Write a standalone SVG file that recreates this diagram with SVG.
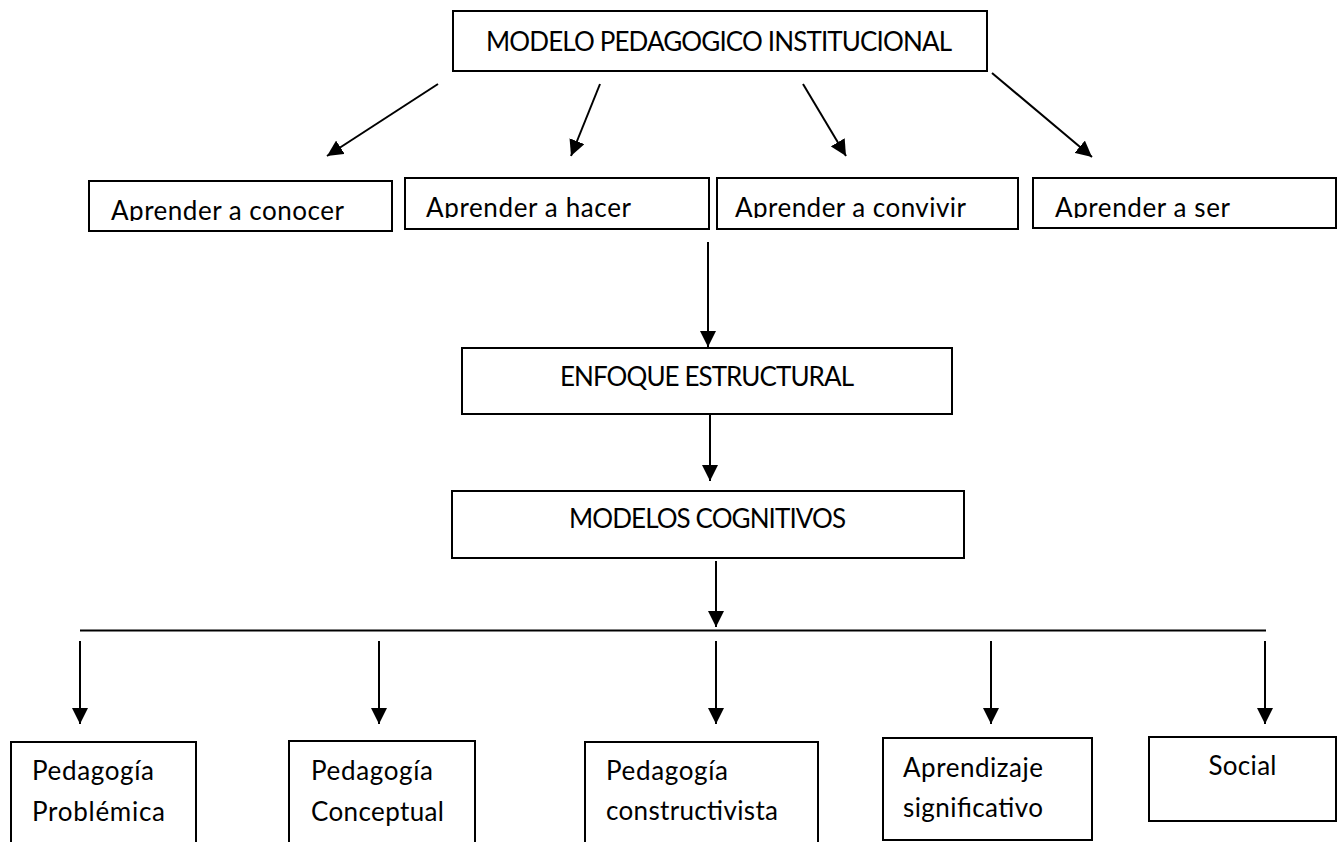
<svg xmlns="http://www.w3.org/2000/svg" width="1340" height="842" viewBox="0 0 1340 842">
<style>
.box{fill:#fff;stroke:#000;stroke-width:2}
.t{font-family:Lato,"Open Sans","Liberation Sans",sans-serif;font-size:26px;fill:#000}
.c{stroke:#000;stroke-width:2;fill:none}
.a{marker-end:url(#ah)}
</style>
<defs>
<marker id="ah" markerUnits="userSpaceOnUse" markerWidth="16" markerHeight="16" refX="16" refY="8" orient="auto" viewBox="0 0 16 16">
<path d="M0,0 L16,8 L0,16 z" fill="#000"/>
</marker>
<clipPath id="k1"><rect x="89" y="181" width="303" height="40"/></clipPath>
<clipPath id="k2"><rect x="405" y="178" width="304" height="40"/></clipPath>
<clipPath id="k3"><rect x="717" y="178" width="301" height="40"/></clipPath>
<clipPath id="k4"><rect x="1033" y="178" width="303" height="40"/></clipPath>
</defs>
<rect width="1340" height="842" fill="#fff"/>

<g id="n-modelo-pedagogico">
<rect class="box" x="453" y="11" width="534" height="60"/>
<text class="t" x="486" y="51" textLength="466">MODELO PEDAGOGICO INSTITUCIONAL</text>
</g>

<g id="n-conocer">
<rect class="box" x="89" y="181" width="303" height="50"/>
<text class="t" x="111" y="220" textLength="233" clip-path="url(#k1)">Aprender a conocer</text>
</g>
<g id="n-hacer">
<rect class="box" x="405" y="178" width="304" height="51"/>
<text class="t" x="426" y="217" textLength="205" clip-path="url(#k2)">Aprender a hacer</text>
</g>
<g id="n-convivir">
<rect class="box" x="717" y="178" width="301" height="51"/>
<text class="t" x="735" y="217" textLength="231" clip-path="url(#k3)">Aprender a convivir</text>
</g>
<g id="n-ser">
<rect class="box" x="1033" y="178" width="303" height="50"/>
<text class="t" x="1055" y="217" textLength="175" clip-path="url(#k4)">Aprender a ser</text>
</g>

<g id="n-enfoque">
<rect class="box" x="462" y="348" width="490" height="66"/>
<text class="t" x="560" y="386" textLength="294">ENFOQUE ESTRUCTURAL</text>
</g>

<g id="n-modelos-cognitivos">
<rect class="box" x="452" y="491" width="512" height="67"/>
<text class="t" x="569" y="528" textLength="277">MODELOS COGNITIVOS</text>
</g>

<g id="n-problemica">
<rect class="box" x="11" y="742" width="185" height="110"/>
<text class="t" x="32" y="780" textLength="122">Pedagogía</text>
<text class="t" x="32" y="821" textLength="133">Problémica</text>
</g>
<g id="n-conceptual">
<rect class="box" x="289" y="741" width="186" height="111"/>
<text class="t" x="311" y="780" textLength="122">Pedagogía</text>
<text class="t" x="311" y="821" textLength="133">Conceptual</text>
</g>
<g id="n-constructivista">
<rect class="box" x="585" y="742" width="233" height="110"/>
<text class="t" x="606" y="780" textLength="122">Pedagogía</text>
<text class="t" x="606" y="820" textLength="172">constructivista</text>
</g>
<g id="n-significativo">
<rect class="box" x="883" y="738" width="209" height="102"/>
<text class="t" x="903" y="777" textLength="140">Aprendizaje</text>
<text class="t" x="903" y="817" textLength="140">significativo</text>
</g>
<g id="n-social">
<rect class="box" x="1149" y="737" width="187" height="84"/>
<text class="t" x="1208.5" y="775" textLength="68">Social</text>
</g>

<g id="connectors">
<line class="c a" x1="438" y1="84" x2="327" y2="156"/>
<line class="c a" x1="600" y1="84" x2="571" y2="156"/>
<line class="c a" x1="803" y1="84" x2="846" y2="156"/>
<line class="c a" x1="992" y1="73" x2="1092" y2="157"/>
<line class="c a" x1="708" y1="242" x2="708" y2="347"/>
<line class="c a" x1="710" y1="415" x2="710" y2="481"/>
<line class="c a" x1="716" y1="561" x2="716" y2="627"/>
<line class="c" x1="80" y1="630.5" x2="1266" y2="630.5"/>
<line class="c a" x1="80" y1="641" x2="80" y2="724"/>
<line class="c a" x1="379" y1="641" x2="379" y2="724"/>
<line class="c a" x1="716" y1="641" x2="716" y2="724"/>
<line class="c a" x1="991" y1="641" x2="991" y2="724"/>
<line class="c a" x1="1265" y1="641" x2="1265" y2="724"/>
</g>
</svg>
